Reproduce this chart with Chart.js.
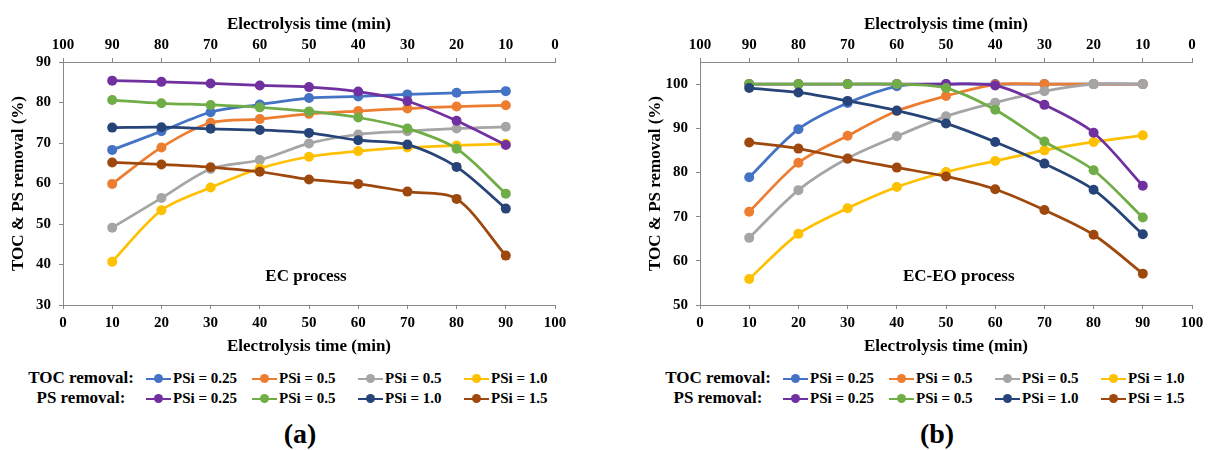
<!DOCTYPE html>
<html>
<head>
<meta charset="utf-8">
<script src="https://cdn.jsdelivr.net/npm/chart.js@4.4.1/dist/chart.umd.min.js"></script>
<style>
  body { margin: 0; width: 1209px; height: 450px; background: #fff; position: relative; overflow: hidden;
         font-family: "Liberation Serif", "Times New Roman", serif; font-weight: bold; color: #000; }
  .panel { position: absolute; top: 0; width: 572px; height: 450px; }
  .panel canvas { position: absolute; left: 0; top: 0; }
  .rowlabel { position: absolute; font-size: 17px; line-height: 20px; text-align: center; width: 120px; }
  .item { position: absolute; font-size: 15px; line-height: 18px; white-space: nowrap; }
  .item i { display: inline-block; position: relative; width: 25px; height: 2px; vertical-align: middle; margin-right: 2px; top: -1px; }
  .item i b { position: absolute; left: 8px; top: -4px; width: 9px; height: 9px; border-radius: 50%; }
  .tag { position: absolute; top: 418px; font-size: 28px; width: 60px; text-align: center; }
</style>
</head>
<body>
<div class="panel" id="panelA" style="left:0px"><canvas id="chartA" width="572" height="360"></canvas></div>
<div class="panel" id="panelB" style="left:637px"><canvas id="chartB" width="572" height="360"></canvas></div>
<script>
// electrolysis time (min), bottom axis
const timeMin = [10, 20, 30, 40, 50, 60, 70, 80, 90];

const seriesLabels = ['PSi = 0.25', 'PSi = 0.5', 'PSi = 0.5', 'PSi = 1.0', 'PSi = 0.25', 'PSi = 0.5', 'PSi = 1.0', 'PSi = 1.5'];
const seriesColors = ['#4472C4', '#ED7D31', '#A5A5A5', '#FFC000', '#7030A0', '#70AD47', '#264478', '#9E480E'];

// (a) EC process
const tocA025 = [68.3, 72.9, 77.6, 79.5, 81.1, 81.5, 82.0, 82.4, 82.8];
const tocA05 = [59.9, 68.9, 75.0, 75.9, 77.2, 77.9, 78.5, 79.0, 79.3];
const tocA05b = [49.1, 56.4, 63.6, 65.8, 69.9, 72.1, 72.9, 73.6, 74.0];
const tocA10 = [40.7, 53.4, 59.0, 63.7, 66.6, 68.0, 68.9, 69.4, 69.8];
const psA025 = [85.4, 85.1, 84.7, 84.2, 83.8, 82.7, 80.3, 75.5, 69.5];
const psA05 = [80.6, 79.8, 79.4, 78.8, 77.8, 76.3, 73.6, 68.6, 57.5];
const psA10 = [73.8, 73.9, 73.5, 73.2, 72.5, 70.7, 69.6, 64.1, 53.8];
const psA15 = [65.2, 64.7, 64.0, 62.9, 61.0, 59.9, 58.0, 56.2, 42.2];

// (b) EC-EO process
const tocB025 = [78.9, 89.8, 95.7, 99.5, 100, 100, 100, 100, 100];
const tocB05 = [71.1, 82.2, 88.3, 93.9, 97.3, 99.9, 100, 100, 100];
const tocB05b = [65.2, 76.0, 83.2, 88.2, 92.7, 95.8, 98.4, 100, 100];
const tocB10 = [55.9, 66.1, 71.9, 76.7, 80.1, 82.6, 85.0, 86.9, 88.4];
const psB025 = [100, 100, 100, 100, 100, 99.7, 95.3, 89.0, 77.0];
const psB05 = [100, 100, 100, 100, 99.1, 94.2, 87.0, 80.5, 69.8];
const psB10 = [99.1, 98.1, 96.2, 94.0, 91.1, 86.9, 82.0, 76.1, 66.0];
const psB15 = [86.8, 85.4, 83.1, 81.1, 79.1, 76.2, 71.5, 65.9, 57.1];

const FONT = '"Liberation Serif", "Times New Roman", serif';
Chart.defaults.font.family = FONT;
Chart.defaults.font.weight = 'bold';
Chart.defaults.color = '#000';

const processLabel = {
    id: 'processLabel',
    afterDatasetsDraw(chart, args, opts) {
        const ctx = chart.ctx;
        ctx.save();
        ctx.font = 'bold 17px ' + FONT;
        ctx.fillStyle = '#000';
        ctx.textAlign = 'center';
        ctx.textBaseline = 'middle';
        ctx.fillText(opts.text, chart.scales.x.getPixelForValue(opts.x), chart.scales.y.getPixelForValue(opts.y));
        ctx.restore();
    }
};

function axisGrid() {
    return { display: true, drawOnChartArea: false, drawTicks: true, tickLength: 4, color: '#888' };
}

function makeChart(canvasId, series, yMin, yMax, label) {
    const datasets = series.map((vals, i) => ({
        label: seriesLabels[i],
        data: vals.map((v, j) => ({ x: timeMin[j], y: v })),
        borderColor: seriesColors[i],
        backgroundColor: seriesColors[i],
        pointBackgroundColor: seriesColors[i],
        borderWidth: 2.75,
        pointRadius: 5,
        pointBorderWidth: 0,
        tension: 0.3,
        order: series.length - i
    }));

    return new Chart(document.getElementById(canvasId), {
        type: 'line',
        data: { datasets: datasets },
        plugins: [processLabel],
        options: {
            responsive: false,
            animation: false,
            layout: { padding: { left: 0, right: 17, top: 0, bottom: 0 } },
            plugins: {
                legend: { display: false },
                tooltip: { enabled: false },
                processLabel: label
            },
            scales: {
                x: {
                    type: 'linear', position: 'bottom', min: 0, max: 100,
                    ticks: { stepSize: 10, padding: 5, font: { size: 15, weight: 'bold' } },
                    grid: axisGrid(),
                    border: { display: true, color: '#888' },
                    title: { display: true, text: 'Electrolysis time (min)', font: { size: 17, weight: 'bold' }, padding: { top: 0, bottom: 3 } },
                    afterFit: s => { s.height = 55; }
                },
                x2: {
                    type: 'linear', position: 'top', min: 0, max: 100, reverse: true,
                    ticks: { stepSize: 10, padding: 4, font: { size: 15, weight: 'bold' } },
                    grid: axisGrid(),
                    border: { display: true, color: '#888' },
                    title: { display: true, text: 'Electrolysis time (min)', font: { size: 17, weight: 'bold' }, padding: { top: 14, bottom: 0 } },
                    afterFit: s => { s.height = 62; }
                },
                y: {
                    type: 'linear', min: yMin, max: yMax,
                    ticks: { stepSize: 10, padding: 8, font: { size: 15, weight: 'bold' } },
                    afterBuildTicks: s => { s.ticks = s.ticks.filter(t => t.value % 10 === 0); },
                    grid: axisGrid(),
                    border: { display: true, color: '#888' },
                    title: { display: true, text: 'TOC & PS removal (%)', font: { size: 17, weight: 'bold' }, padding: { top: 8, bottom: 0 } },
                    afterFit: s => { s.width = 63; }
                }
            }
        }
    });
}

makeChart('chartA', [tocA025, tocA05, tocA05b, tocA10, psA025, psA05, psA10, psA15], 30, 90,
    { text: 'EC process', x: 49.4, y: 36.9 });
makeChart('chartB', [tocB025, tocB05, tocB05b, tocB10, psB025, psB05, psB10, psB15], 50, 105,
    { text: 'EC-EO process', x: 52.6, y: 56.4 });

// legend rows below each chart
const rowNames = ['TOC removal:', 'PS removal:'];
const colX = [146, 252, 358, 464];
['panelA', 'panelB'].forEach((pid, p) => {
    const panel = document.getElementById(pid);
    rowNames.forEach((name, r) => {
        const rowY = 368 + r * 20;
        const lab = document.createElement('div');
        lab.className = 'rowlabel';
        lab.style.left = '21px';
        lab.style.top = rowY + 'px';
        lab.textContent = name;
        panel.appendChild(lab);
        for (let c = 0; c < 4; c++) {
            const k = r * 4 + c;
            const it = document.createElement('div');
            it.className = 'item';
            it.style.left = colX[c] + 'px';
            it.style.top = (rowY + 1) + 'px';
            it.innerHTML = '<i style="background:' + seriesColors[k] + '"><b style="background:' + seriesColors[k] + '"></b></i>' + seriesLabels[k];
            panel.appendChild(it);
        }
    });
    const tag = document.createElement('div');
    tag.className = 'tag';
    tag.style.left = '270px';
    tag.textContent = p === 0 ? '(a)' : '(b)';
    panel.appendChild(tag);
});
</script>
</body>
</html>
